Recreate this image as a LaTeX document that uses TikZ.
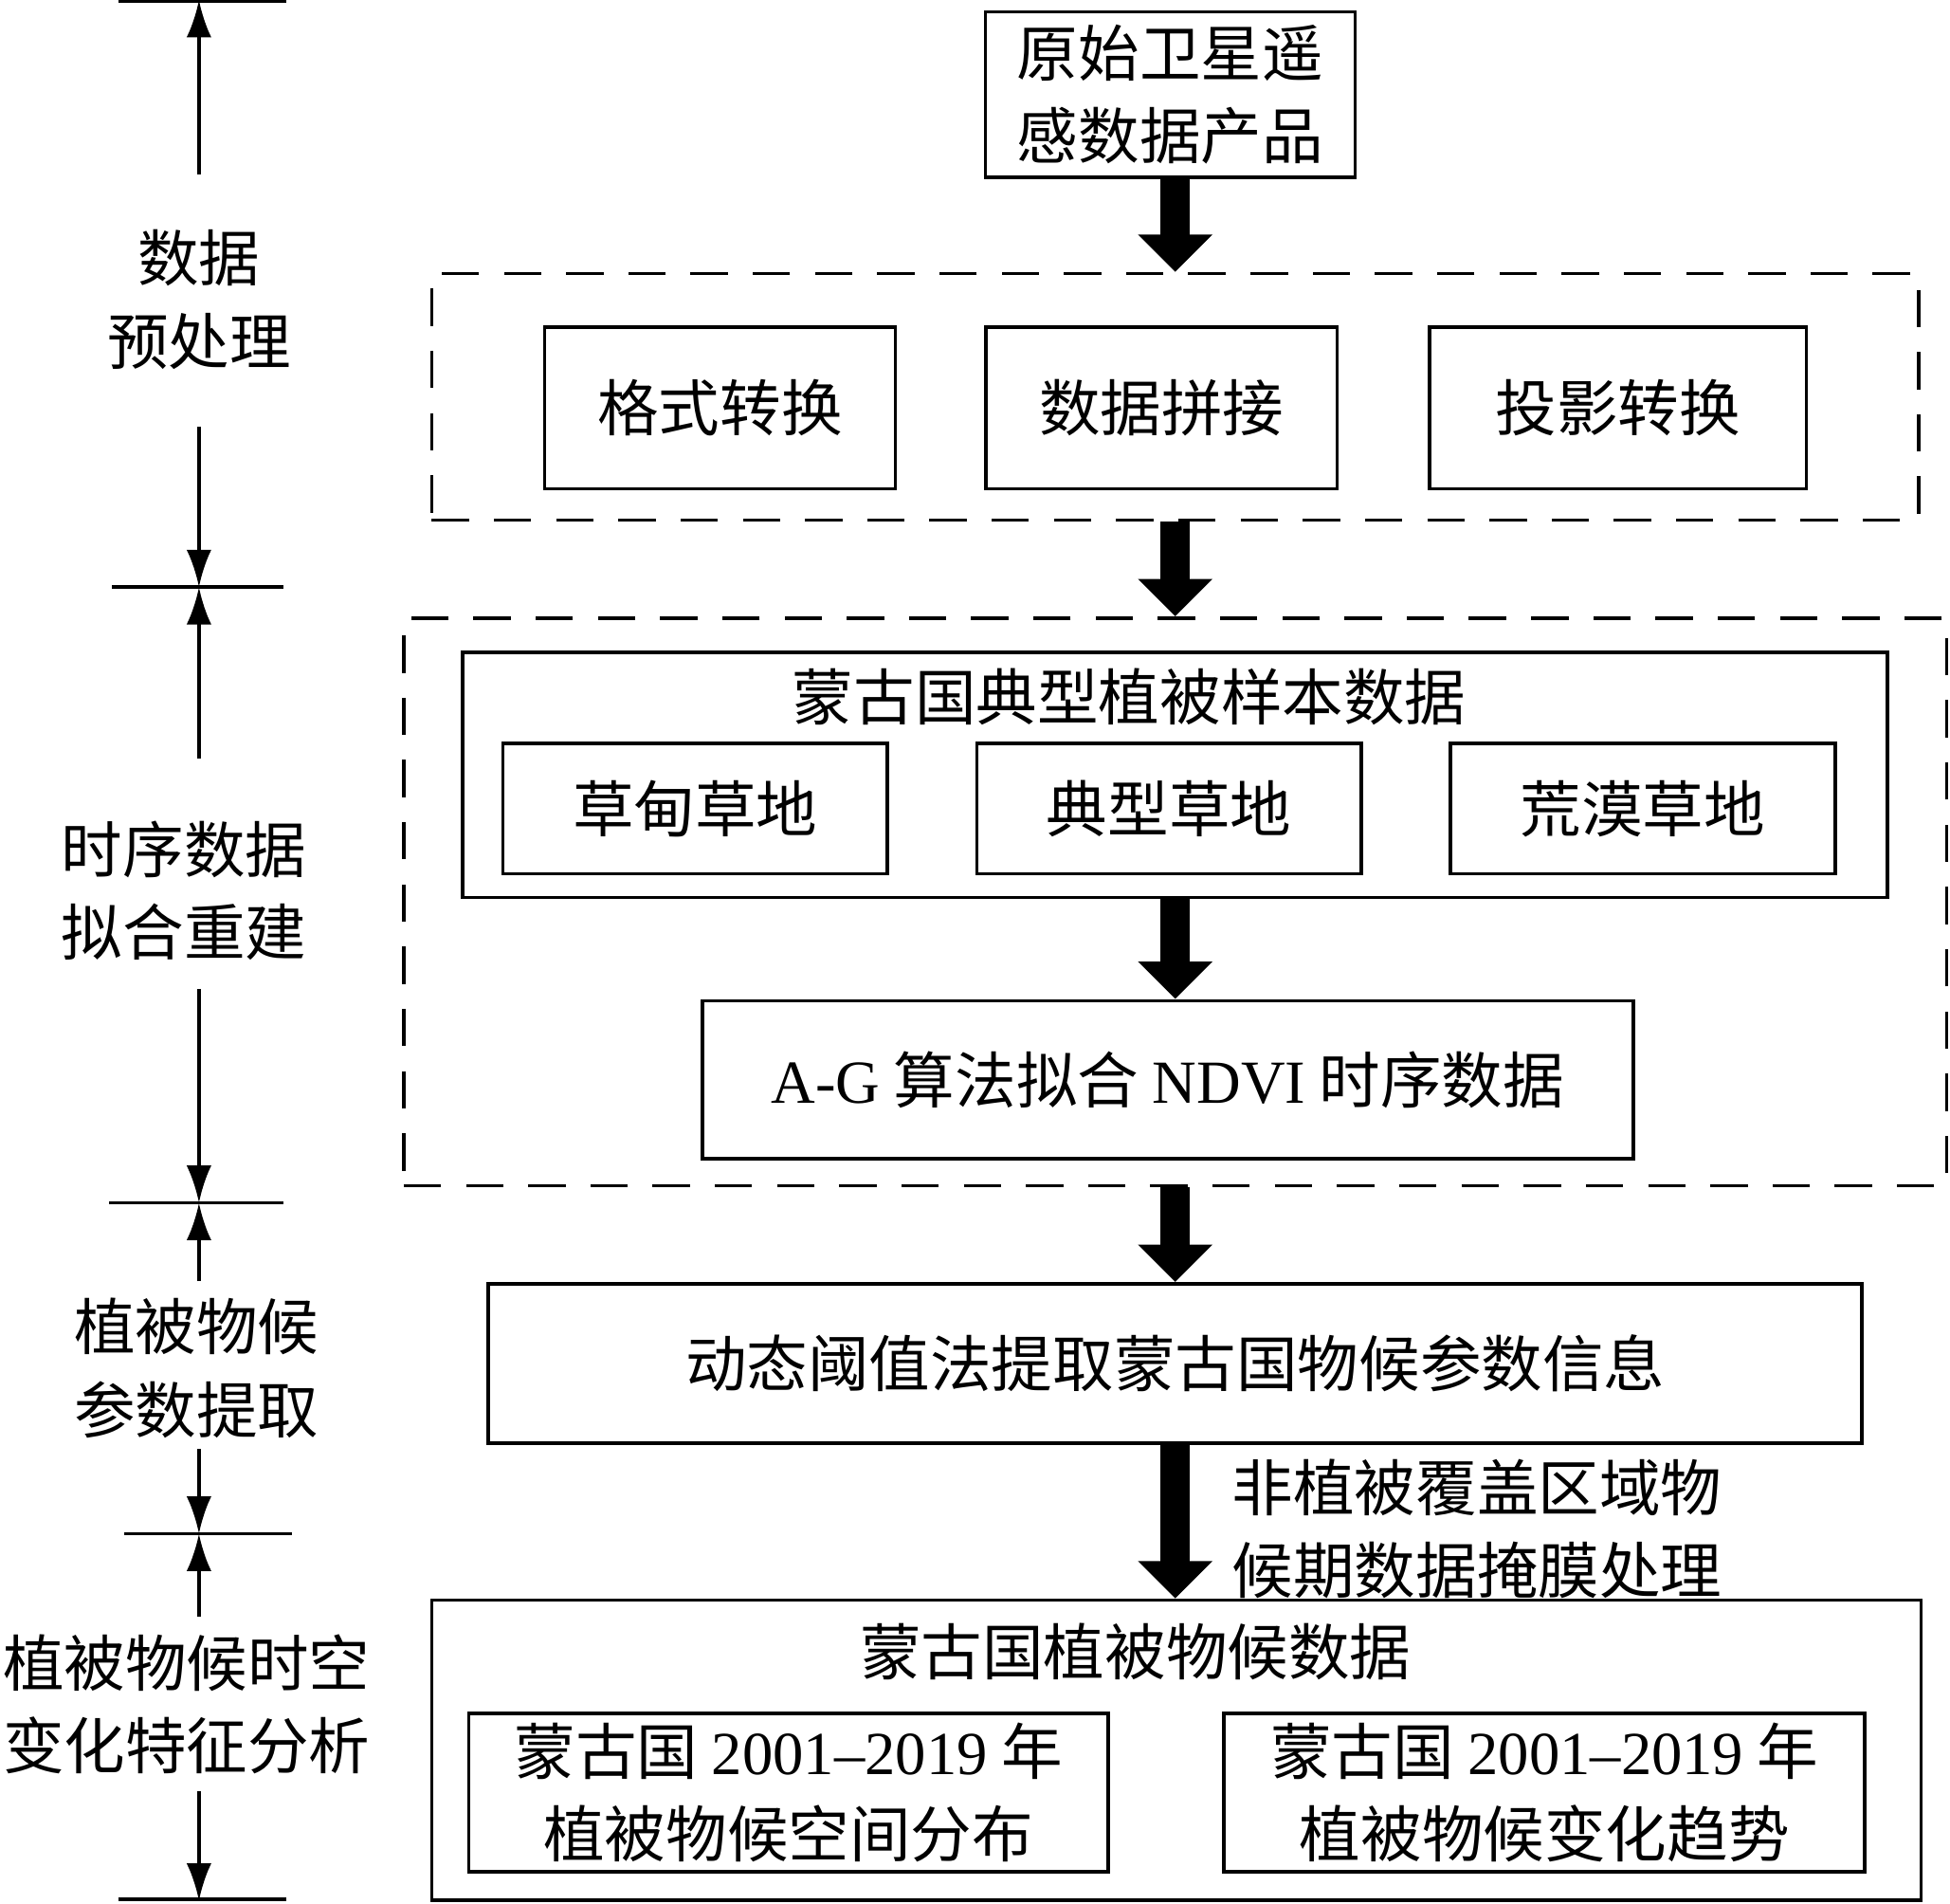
\documentclass[tikz,border=0pt]{standalone}
\usepackage{fontspec}
\setmainfont{Liberation Serif}
\newfontfamily\cjk{Noto Sans CJK SC}
\usetikzlibrary{arrows.meta}
\newcommand{\en}[1]{{\rmfamily #1}}
\tikzset{
  box/.style={rectangle, draw=black, line width=0.8pt, inner sep=0pt, align=center},
  dbox/.style={rectangle, draw=black, line width=0.8pt, dash pattern=on 0.3cm off 0.2cm},
  bigarrow/.style={line width=0.24cm, draw=black, -{Triangle[width=0.58cm,length=0.3cm]}},
  side/.style={line width=0.8pt, -{Latex[length=0.3cm,width=0.2cm]}},
  tick/.style={line width=0.8pt},
  lab/.style={align=center, inner sep=0pt}
}
\begin{document}
\begin{tikzpicture}[x=0.01cm, y=-0.01cm, font=\cjk\fontsize{14}{19}\selectfont]
    \useasboundingbox (0,0) rectangle (1568,1530);
    % main column
    \node (raw) at (941,76) [box, minimum width=2.97cm, minimum height=1.33cm] {原始卫星遥\\感数据产品};
    \node (pre) at (945,319) [dbox, minimum width=11.95cm, minimum height=1.98cm] {};
    \node (fmt) at (579,328) [box, minimum width=2.82cm, minimum height=1.30cm] {格式转换};
    \node (mos) at (934,328) [box, minimum width=2.82cm, minimum height=1.30cm] {数据拼接};
    \node (prj) at (1301,328) [box, minimum width=3.03cm, minimum height=1.30cm] {投影转换};
    \node (fit) at (945,725) [dbox, minimum width=12.40cm, minimum height=4.56cm] {};
    \node (smp) at (945,623) [box, minimum width=11.45cm, minimum height=1.97cm] {};
    \node (smpt) at (908,560) [lab] {蒙古国典型植被样本数据};
    \node (mea) at (559,650) [box, minimum width=3.09cm, minimum height=1.05cm] {草甸草地};
    \node (typ) at (940,650) [box, minimum width=3.09cm, minimum height=1.05cm] {典型草地};
    \node (des) at (1321,650) [box, minimum width=3.09cm, minimum height=1.05cm] {荒漠草地};
    \node (ag) at (939,868) [box, minimum width=7.48cm, minimum height=1.27cm] {\en{A-G} 算法拟合 \en{NDVI} 时序数据};
    \node (dyn) at (945,1096) [box, minimum width=11.04cm, minimum height=1.28cm] {动态阈值法提取蒙古国物候参数信息};
    \node (phe) at (946,1407) [box, minimum width=11.97cm, minimum height=2.41cm] {};
    \node (phet) at (913,1328) [lab] {蒙古国植被物候数据};
    \node (spa) at (634,1441) [box, minimum width=5.14cm, minimum height=1.27cm] {蒙古国 \en{2001–2019} 年\\植被物候空间分布};
    \node (trd) at (1242,1441) [box, minimum width=5.15cm, minimum height=1.27cm] {蒙古国 \en{2001–2019} 年\\植被物候变化趋势};
    \node (msk) at (990,1229) [lab, anchor=west] {非植被覆盖区域物\\候期数据掩膜处理};

    \draw[bigarrow] (raw.south -| 945,0) -- (pre.north);
    \draw[bigarrow] (pre.south) -- (fit.north);
    \draw[bigarrow] (smp.south) -- (ag.north -| smp.south);
    \draw[bigarrow] (fit.south) -- (dyn.north -| fit.south);
    \draw[bigarrow] (dyn.south -| fit.south) -- (phe.north -| fit.south);

    % stage ruler
    \coordinate (t0) at (160,0);
    \coordinate (t1) at (160,472);
    \coordinate (t2) at (160,967);
    \coordinate (t3) at (160,1233);
    \coordinate (t4) at (160,1528);
    \draw[tick] (95,1) -- (230,1);
    \draw[tick] (90,472) -- (228,472);
    \draw[tick] (88,967) -- (228,967);
    \draw[tick] (100,1233) -- (235,1233);
    \draw[tick] (95,1527) -- (230,1527);
    \node (s1) at (160,241) [lab] {数据\\预处理};
    \node (s2) at (148,716) [lab] {时序数据\\拟合重建};
    \node (s3) at (158,1100) [lab] {植被物候\\参数提取};
    \node (s4) at (150,1370) [lab] {植被物候时空\\变化特征分析};
    \draw[side] (160,140) -- (t0);
    \draw[side] (160,343) -- (t1);
    \draw[side] (160,610) -- (t1);
    \draw[side] (160,795) -- (t2);
    \draw[side] (160,1030) -- (t2);
    \draw[side] (160,1165) -- (t3);
    \draw[side] (160,1300) -- (t3);
    \draw[side] (160,1440) -- (t4);
\end{tikzpicture}
\end{document}
